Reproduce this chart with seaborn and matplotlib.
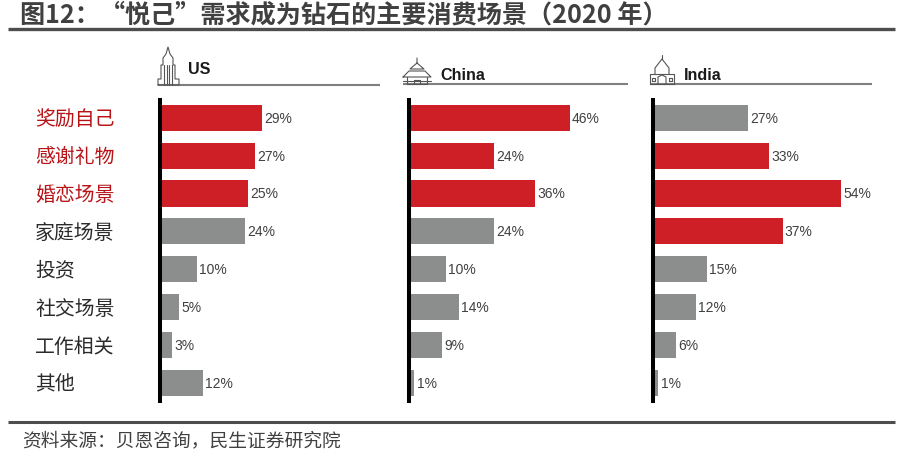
import matplotlib
matplotlib.use("Agg")
import matplotlib.pyplot as plt
from matplotlib.lines import Line2D
from matplotlib.transforms import ScaledTranslation
import pandas as pd
import seaborn as sns

sns.set_theme(style="white")
CJK = ["Noto Sans CJK SC", "DejaVu Sans"]
LATIN = ["Liberation Sans", "DejaVu Sans"]
plt.rcParams["font.family"] = CJK

title_text = "图12：“悦己”需求成为钻石的主要消费场景（2020 年）"
source_text = "资料来源：贝恩咨询，民生证券研究院"
categories = ["奖励自己", "感谢礼物", "婚恋场景", "家庭场景", "投资", "社交场景", "工作相关", "其他"]
countries = ["US", "China", "India"]
us_values = [29, 27, 25, 24, 10, 5, 3, 12]
china_values = [46, 24, 36, 24, 10, 14, 9, 1]
india_values = [27, 33, 54, 37, 15, 12, 6, 1]
us_highlight = [1, 1, 1, 0, 0, 0, 0, 0]
china_highlight = [1, 1, 1, 0, 0, 0, 0, 0]
india_highlight = [0, 1, 1, 1, 0, 0, 0, 0]
red_categories = ["奖励自己", "感谢礼物", "婚恋场景"]

RED, GRAY, TXT, RULE = "#CE1F26", "#8C8E8E", "#404040", "#4D4D4D"
W, H = 900, 460
fig = plt.figure(figsize=(W / 100, H / 100), dpi=100, facecolor="white")


def px(x0, y0, w, h):
    return [x0 / W, 1 - (y0 + h) / H, w / W, h / H]


def hline(x0, x1, y, lw, color):
    fig.add_artist(Line2D([x0 / W, x1 / W], [1 - y / H] * 2, lw=lw, color=color,
                          transform=fig.transFigure, solid_capstyle="butt"))


def poly(ox, oy, pts, lw=0.8, color="#555555"):
    fig.add_artist(Line2D([(ox + p[0]) / W for p in pts], [1 - (oy + p[1]) / H for p in pts],
                          lw=lw, color=color, transform=fig.transFigure))


def icon_us(ox, oy):
    poly(ox, oy, [(0, 0), (0, -6), (3, -6), (3, -20), (5, -20), (5, -27), (8, -31), (10, -38),
                  (12, -31), (15, -27), (15, -20), (17, -20), (17, -6), (21, -6), (21, 0), (0, 0)])
    for x in (6, 9, 11, 14):
        poly(ox, oy, [(x, 0), (x, -20)])


def icon_china(ox, oy):
    poly(ox, oy, [(14, -26), (14, -21), (7, -15), (21, -15), (14, -21)])
    poly(ox, oy, [(0, -7), (28, -7), (22, -13), (6, -13), (0, -7)])
    poly(ox, oy, [(4, -7), (4, 0), (24, 0), (24, -7)])
    poly(ox, oy, [(11, 0), (11, -4), (17, -4), (17, 0)])
    poly(ox, oy, [(0, -3), (28, -3)])


def icon_india(ox, oy):
    poly(ox, oy, [(0, 0), (0, -10), (24, -10), (24, 0), (0, 0)])
    poly(ox, oy, [(5, -10), (5, -16), (12, -25), (19, -16), (19, -10)])
    poly(ox, oy, [(12, -25), (12, -29)])
    poly(ox, oy, [(8, 0), (8, -7), (12, -9), (16, -7), (16, 0)])
    poly(ox, oy, [(2, -3), (2, -6), (5, -6), (5, -3), (2, -3)])
    poly(ox, oy, [(19, -3), (19, -6), (22, -6), (22, -3), (19, -3)])


panels = [
    ("US", us_values, us_highlight, 160, 158, 380, 86, 188, 68, icon_us),
    ("China", china_values, china_highlight, 409, 403, 628, 85, 440, 74, icon_china),
    ("India", india_values, india_highlight, 653, 650, 872, 85, 684, 74, icon_india),
]
PX_PER_UNIT = 3.45
AX_W = 225
SPINE_OFFSET_PX = 2
for i, (name, vals, hl, base, lx0, lx1, ly, tx, ty, icon) in enumerate(panels):
    ax = fig.add_axes(px(base + SPINE_OFFSET_PX, 100.7, AX_W, 301))
    df = pd.DataFrame({"cat": categories, "val": vals, "hl": hl})
    sns.barplot(data=df, x="val", y="cat", hue="hl", hue_order=[1, 0], order=categories,
                palette={1: RED, 0: GRAY}, dodge=False, legend=False, width=0.69, ax=ax,
                saturation=1, linewidth=0)
    ax.set_xlim(0, AX_W / PX_PER_UNIT)
    ax.set_ylim(7.47, -0.475)
    ax.set_xlabel("")
    ax.set_ylabel("")
    ax.set_xticks([])
    for s in ("top", "right", "bottom"):
        ax.spines[s].set_visible(False)
    ax.spines["left"].set_linewidth(2.9)
    ax.spines["left"].set_color("black")
    ax.spines["left"].set_position(("outward", SPINE_OFFSET_PX * 0.72))
    ax.patch.set_alpha(0)
    for c in ax.containers:
        ax.bar_label(c, fmt="%g%%", padding=1.5, color=TXT, fontsize=10, family=LATIN)
    if i == 0:
        ax.tick_params(axis="y", length=0, pad=90)
        shift = ScaledTranslation(0, 1.5 / 100, fig.dpi_scale_trans)
        for t in ax.get_yticklabels():
            t.set_ha("left")
            t.set_fontsize(14.3)
            t.set_color("#B81418" if t.get_text() in red_categories else "#2A2A2A")
            t.set_transform(t.get_transform() + shift)
    else:
        ax.tick_params(axis="y", left=False, labelleft=False)
    hline(lx0, lx1, ly, 1.5, "#808080")
    icon(lx0, ly)
    fig.text(tx / W, 1 - (ty + 1) / H, name, fontsize=11.6, fontweight="bold", color="#1A1A1A",
             family=LATIN, va="center", ha="left")

fig.text(20 / W, 1 - 15 / H, title_text, fontsize=18.1, fontweight="bold", color=TXT,
         va="center", ha="left")
hline(8, 895, 30, 2.4, RULE)
hline(8, 895, 423, 2.2, RULE)
fig.text(22 / W, 1 - 441 / H, source_text, fontsize=13.5, color=TXT, va="center", ha="left")

fig.savefig("out.png", dpi=100)
